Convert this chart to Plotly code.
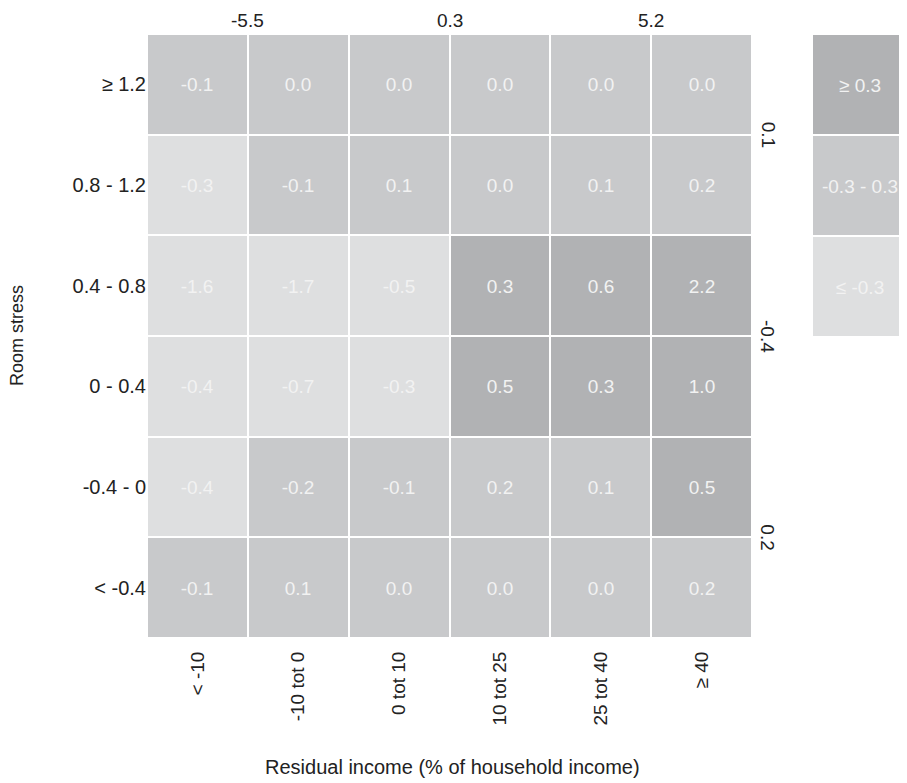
import plotly.graph_objects as go

# ---- data ----
x_labels = ["< -10", "-10 tot 0", "0 tot 10", "10 tot 25", "25 tot 40", "≥ 40"]
y_labels = ["< -0.4", "-0.4 - 0", "0 - 0.4", "0.4 - 0.8", "0.8 - 1.2", "≥ 1.2"]  # bottom -> top
row_lt_m04 = [-0.1, 0.1, 0.0, 0.0, 0.0, 0.2]
row_m04_0 = [-0.4, -0.2, -0.1, 0.2, 0.1, 0.5]
row_0_04 = [-0.4, -0.7, -0.3, 0.5, 0.3, 1.0]
row_04_08 = [-1.6, -1.7, -0.5, 0.3, 0.6, 2.2]
row_08_12 = [-0.3, -0.1, 0.1, 0.0, 0.1, 0.2]
row_ge_12 = [-0.1, 0.0, 0.0, 0.0, 0.0, 0.0]
values = [row_lt_m04, row_m04_0, row_0_04, row_04_08, row_08_12, row_ge_12]

top_labels = ["-5.5", "0.3", "5.2"]          # column-pair averages
right_labels = ["0.2", "-0.4", "0.1"]        # row-pair averages (bottom -> top)
legend_labels = ["≤ -0.3", "-0.3 - 0.3", "≥ 0.3"]

C_LIGHT, C_MID, C_DARK = "#dedfe0", "#c8c9cb", "#b1b2b4"
FONT = "Liberation Sans, Arial, sans-serif"
TXT = "#222222"


def cat(v):
    if v >= 0.3:
        return 2
    if v <= -0.3:
        return 0
    return 1


z = [[cat(v) for v in row] for row in values]
txt = [[f"{v:.1f}" for v in row] for row in values]
cscale = [[0, C_LIGHT], [0.5, C_MID], [1, C_DARK]]

fig = go.Figure()
fig.add_trace(go.Heatmap(
    z=z, x=list(range(6)), y=list(range(6)), text=txt,
    texttemplate="%{text}", textfont=dict(color="#f2f2f2", size=19, family=FONT),
    colorscale=cscale, zmin=0, zmax=2, showscale=False, xgap=2, ygap=2,
    hoverinfo="skip"))

fig.add_trace(go.Heatmap(
    z=[[0], [1], [2]], x=[0], y=[0, 1, 2], text=[[t] for t in legend_labels],
    texttemplate="%{text}", textfont=dict(color="#f2f2f2", size=19, family=FONT),
    colorscale=cscale, zmin=0, zmax=2, showscale=False, xgap=0, ygap=2,
    xaxis="x2", yaxis="y2", hoverinfo="skip"))

# page has an 8px body margin; work in figure coordinates
W, H = 899, 775
L, R, T = 139, 0, 26
BOTTOM = 630
B = H - BOTTOM
pw = W - L - R
ph = H - T - B
main_right = (744 - L) / pw
leg_left = (805 - L) / pw
leg_bottom = (BOTTOM - 329) / ph

annotations = []
for i, t in enumerate(top_labels):
    annotations.append(dict(x=2 * i + 0.5, y=1, xref="x", yref="paper", text=t,
                            showarrow=False, xanchor="center", yanchor="bottom", yshift=1,
                            font=dict(size=19, color=TXT, family=FONT)))
for i, t in enumerate(right_labels):
    annotations.append(dict(x=(760 - L) / pw, y=2 * i + 0.5, xref="paper", yref="y", text=t,
                            showarrow=False, textangle=90, xanchor="center", yanchor="middle",
                            font=dict(size=19, color=TXT, family=FONT)))
annotations.append(dict(x=(444 - L) / pw, y=(BOTTOM - 759) / ph, xref="paper", yref="paper",
                        text="Residual income (% of household income)", showarrow=False,
                        xanchor="center", yanchor="middle",
                        font=dict(size=20, color=TXT, family=FONT)))
annotations.append(dict(x=(9 - L) / pw, y=(BOTTOM - 328) / ph, xref="paper", yref="paper",
                        text="Room stress", showarrow=False, textangle=-90,
                        xanchor="center", yanchor="middle",
                        font=dict(size=18, color=TXT, family=FONT)))

fig.update_layout(
    width=W, height=H, margin=dict(l=L, r=R, t=T, b=B),
    paper_bgcolor="white", plot_bgcolor="white",
    font=dict(family=FONT, size=19, color=TXT),
    xaxis=dict(domain=[0, main_right], tickmode="array", tickvals=list(range(6)),
               ticktext=x_labels, tickangle=-90, showgrid=False, zeroline=False,
               showline=False, ticks="outside", ticklen=5, tickcolor="rgba(0,0,0,0)",
               automargin=False, range=[-0.5, 5.5],
               tickfont=dict(size=19, color=TXT)),
    yaxis=dict(domain=[0, 1], tickmode="array", tickvals=list(range(6)),
               ticktext=y_labels, showgrid=False, zeroline=False, showline=False,
               ticks="", automargin=False, range=[-0.5, 5.5],
               tickfont=dict(size=20, color=TXT)),
    xaxis2=dict(domain=[leg_left, 1], anchor="y2", visible=False, range=[-0.5, 0.5]),
    yaxis2=dict(domain=[leg_bottom, 1], anchor="x2", visible=False, range=[-0.5, 2.5]),
    annotations=annotations,
)

fig.write_html("out.html")
